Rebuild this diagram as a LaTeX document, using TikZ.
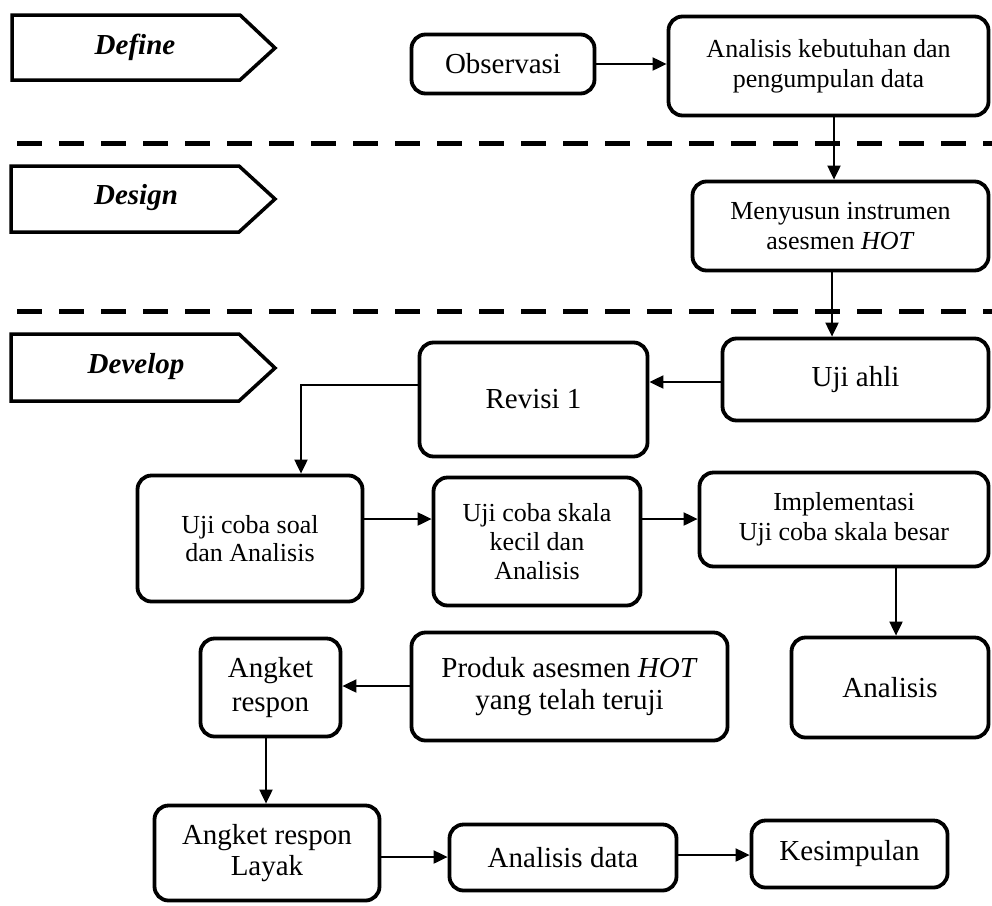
\documentclass[tikz,border=0pt]{standalone}
\usepackage{fontspec}
\setmainfont{Liberation Serif}
\usetikzlibrary{arrows.meta}
\begin{document}
\begin{tikzpicture}[x=1pt,y=-1pt,
  box/.style={draw, line width=3.8pt, rounded corners=14pt, align=center, inner sep=0pt},
  big/.style={font=\fontsize{29}{34}\selectfont},
  small/.style={font=\fontsize{26}{30}\selectfont},
  arr/.style={line width=2pt, -{Triangle[length=14pt,width=13pt]}},
  phase/.style={line width=3.5pt, line join=miter},
  phasetext/.style={font=\fontsize{29}{32}\selectfont\bfseries\itshape, anchor=base},
  sep/.style={line width=5pt, dash pattern=on 25pt off 17pt}]
\useasboundingbox (0,0) rectangle (992,905);

% phase labels
\draw[phase] (12,15) -- (240,15) -- (275,48) -- (240,80) -- (12,80) -- cycle;
\node[phasetext] (define) at (135,54) {Define};
\draw[phase] (11,166) -- (239,166) -- (275,199) -- (239,232) -- (11,232) -- cycle;
\node[phasetext] (design) at (136,204) {Design};
\draw[phase] (11,334) -- (239,334) -- (275,368) -- (239,401) -- (11,401) -- cycle;
\node[phasetext] (develop) at (136,373) {Develop};

% separators
\draw[sep] (17,143) -- (992,143);
\draw[sep] (17,311) -- (992,311);

% boxes
\node[box, big, minimum width=183pt, minimum height=59pt] (obs) at (503,64) {Observasi};
\node[box, small, minimum width=320pt, minimum height=99pt] (akd) at (828.5,66) {Analisis kebutuhan dan\\pengumpulan data};
\node[box, small, minimum width=296pt, minimum height=89pt] (meny) at (840.5,226) {Menyusun instrumen\\asesmen \textit{HOT}};
\node[box, big, minimum width=266pt, minimum height=82pt] (ujiahli) at (855.5,379.5) {Uji ahli};
\node[box, big, minimum width=228pt, minimum height=114pt] (rev) at (533.5,399.5) {Revisi 1};
\node[box, small, minimum width=225pt, minimum height=126pt, font=\fontsize{26}{28}\selectfont] (soal) at (250,538.5) {Uji coba soal\\dan Analisis};
\node[box, small, minimum width=207pt, minimum height=128pt, font=\fontsize{26}{29}\selectfont] (kecil) at (537,541.5) {Uji coba skala\\kecil dan\\Analisis};
\node[box, small, minimum width=289pt, minimum height=94pt] (impl) at (844,519.5) {Implementasi\\Uji coba skala besar};
\node[box, big, minimum width=197pt, minimum height=100pt] (analisis) at (890,687.5) {Analisis};
\node[box, big, minimum width=140pt, minimum height=98pt] (angket) at (270.5,687.5) {Angket\\respon};
\node[box, big, minimum width=316pt, minimum height=108pt, font=\fontsize{29}{32}\selectfont] (produk) at (569.5,686.5) {Produk asesmen \textit{HOT}\\yang telah teruji};
\node[box, big, minimum width=225pt, minimum height=95pt, font=\fontsize{29}{31}\selectfont] (layak) at (267,853) {Angket respon\\Layak};
\node[box, big, minimum width=227pt, minimum height=66pt] (adata) at (563,857.5) {Analisis data};
\node[box, big, minimum width=196pt, minimum height=67pt] (kesimp) at (849.5,854) {Kesimpulan};

% helper coordinates
\coordinate (k834) at (834,0);
\coordinate (k832) at (832,0);
\coordinate (r382) at (0,382);
\coordinate (r385) at (0,385);
\coordinate (k301) at (301,0);
\coordinate (r519) at (0,519);
\coordinate (k896) at (896,0);
\coordinate (r686) at (0,686);
\coordinate (k266) at (266,0);
\coordinate (r857) at (0,857);
\coordinate (r855) at (0,855);

% connectors
\draw[arr] (obs.east) -- (obs.east -| akd.west);
\draw[arr] (akd.south -| k834) -- (meny.north -| k834);
\draw[arr] (meny.south -| k832) -- (ujiahli.north -| k832);
\draw[arr] (ujiahli.west |- r382) -- (rev.east |- r382);
\draw[arr] (rev.west |- r385) -| (soal.north -| k301);
\draw[arr] (soal.east |- r519) -- (kecil.west |- r519);
\draw[arr] (kecil.east |- r519) -- (impl.west |- r519);
\draw[arr] (impl.south -| k896) -- (analisis.north -| k896);
\draw[arr] (produk.west |- r686) -- (angket.east |- r686);
\draw[arr] (angket.south -| k266) -- (layak.north -| k266);
\draw[arr] (layak.east |- r857) -- (adata.west |- r857);
\draw[arr] (adata.east |- r855) -- (kesimp.west |- r855);
\end{tikzpicture}
\end{document}
